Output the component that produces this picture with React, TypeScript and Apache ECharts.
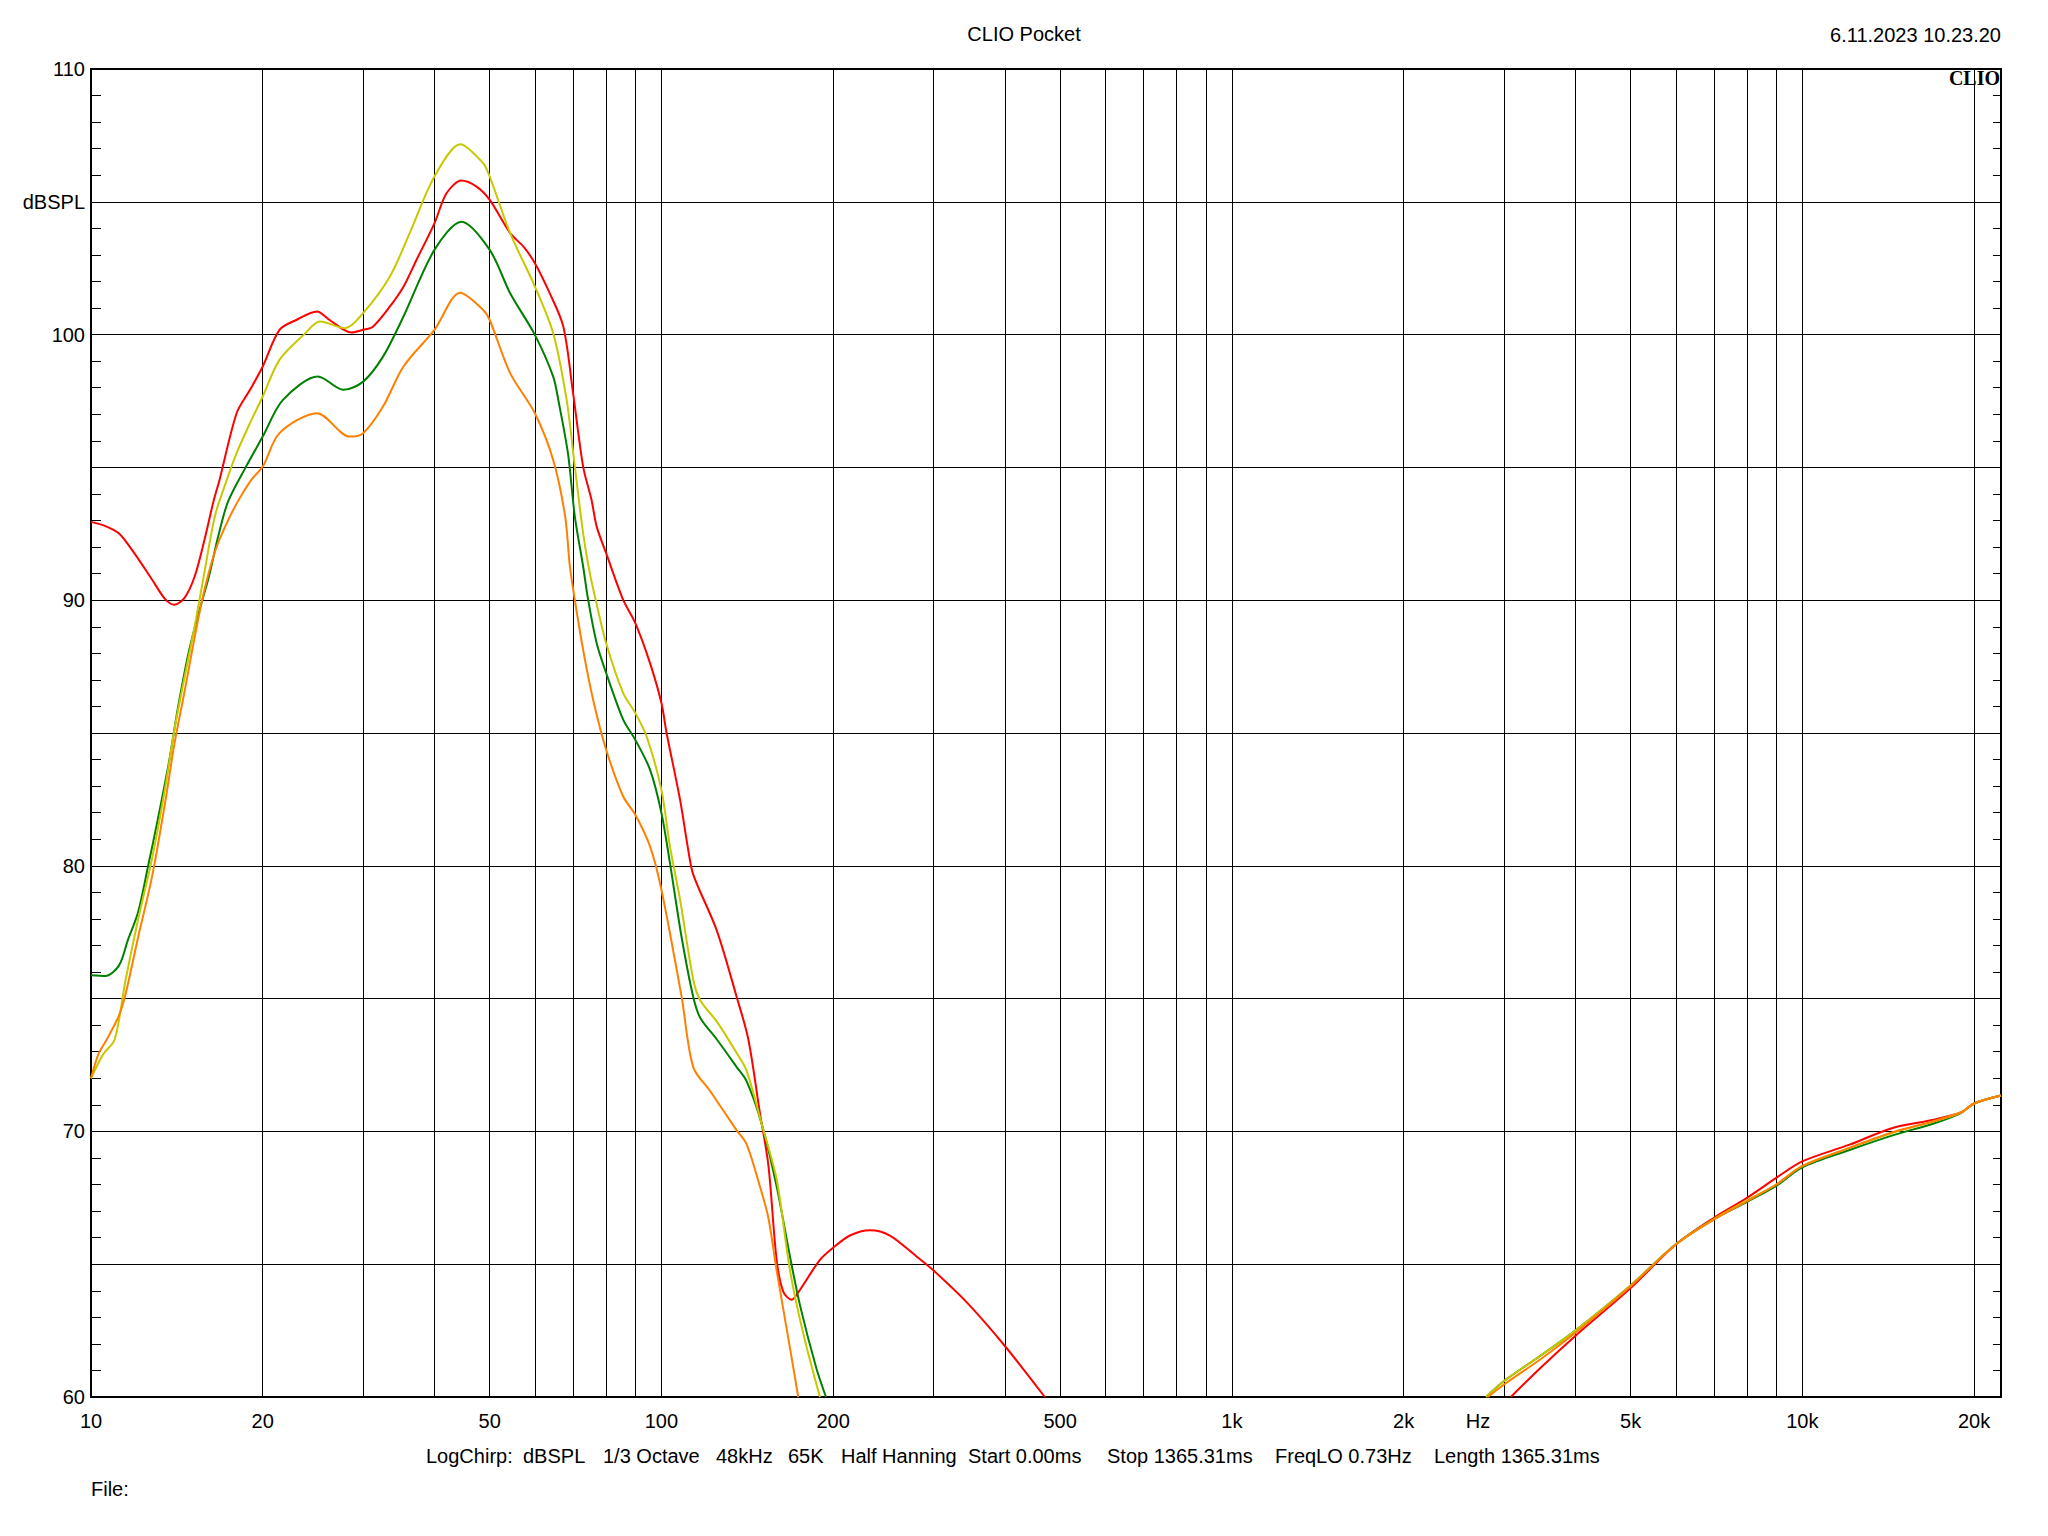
import React, { useEffect, useRef } from "react";
import * as echarts from "echarts";

// ---- axis definitions ----
const gridFreqs = [
  10, 20, 30, 40, 50, 60, 70, 80, 90,
  100, 200, 300, 400, 500, 600, 700, 800, 900,
  1000, 2000, 3000, 4000, 5000, 6000, 7000, 8000, 9000,
  10000, 20000,
];
const labelFreqs = [10, 20, 50, 100, 200, 500, 1000, 2000, 2700, 5000, 10000, 20000];
const labelTexts = ["10", "20", "50", "100", "200", "500", "1k", "2k", "Hz", "5k", "10k", "20k"];

// ---- red ----
const redLowFreq = [10, 10.6, 11.2, 11.9, 12.8, 13.5, 14.0, 14.6, 15.2, 15.8, 16.4, 16.8, 18.0, 19.0, 20, 21.4, 22.9, 24.9, 26.2, 28.6, 30, 31.2, 33.4, 35.3, 37.2, 40, 42, 44.6, 47.4, 50, 54.3, 57.3, 60, 63.7, 67.3, 70, 72.9, 75.4, 77, 80, 85.7, 90, 95.5, 100, 102.1, 107.8, 111.4, 113.7, 125, 135.5, 142, 148.8, 154, 159.2, 163.5, 169.1, 173.7, 189.6, 200, 214, 232, 251.5, 280, 300, 342.7, 400, 470];
const redLowDb = [92.95, 92.79, 92.51, 91.78, 90.77, 90.03, 89.83, 90.1, 90.9, 92.25, 93.73, 94.53, 97.04, 97.92, 98.8, 100.18, 100.55, 100.87, 100.55, 100.08, 100.18, 100.3, 101.05, 101.8, 102.81, 104.19, 105.32, 105.8, 105.57, 105.07, 103.82, 103.31, 102.69, 101.56, 100.3, 97.8, 95.03, 93.78, 92.77, 91.77, 90.01, 89.14, 87.63, 86.13, 85.0, 82.49, 80.61, 79.67, 77.57, 75.06, 73.47, 70.7, 68.72, 65.16, 63.97, 63.66, 63.94, 65.16, 65.62, 66.08, 66.28, 66.08, 65.29, 64.76, 63.57, 61.92, 60.0];
const redHighFreq = [3083, 3500, 4000, 5000, 6000, 7000, 8000, 9000, 10000, 12100, 14400, 17000, 19000, 20000, 22300];
const redHighDb = [60.0, 61.16, 62.3, 64.1, 65.74, 66.75, 67.5, 68.25, 68.87, 69.5, 70.13, 70.44, 70.72, 71.05, 71.35];

// ---- yellow ----
const yellowLowFreq = [10, 10.5, 11.0, 11.5, 12.1, 12.8, 13.5, 14.0, 14.6, 15.2, 15.8, 16.5, 17.3, 18.0, 19.0, 20, 21.4, 23.6, 25.2, 27.9, 30, 33.4, 36.2, 40, 44.4, 48.7, 50, 54.3, 60, 64.6, 68.2, 70.5, 72.9, 74.9, 76.7, 80, 85.7, 90, 94.2, 100, 103.5, 107.8, 113.7, 117, 125, 135.5, 141, 149.8, 159.2, 168, 177.3, 189.6];
const yellowLowDb = [72.0, 72.9, 73.45, 75.71, 78.0, 80.29, 82.97, 85.12, 87.14, 89.02, 91.03, 93.19, 94.53, 95.54, 96.67, 97.67, 99.05, 99.99, 100.49, 100.24, 100.81, 102.18, 103.82, 105.95, 107.17, 106.45, 105.95, 103.82, 101.81, 100.05, 97.54, 95.03, 92.52, 91.02, 90.01, 88.38, 86.5, 85.75, 84.87, 82.86, 80.73, 78.73, 75.72, 74.93, 74.14, 72.95, 72.29, 70.3, 68.2, 64.77, 62.38, 60.0];
const yellowHighFreq = [2790, 3000, 3500, 4000, 5000, 6000, 7000, 8000, 9000, 10000, 12100, 14400, 17000, 19000, 20000, 22300];
const yellowHighDb = [60.0, 60.6, 61.6, 62.5, 64.2, 65.75, 66.7, 67.4, 68.0, 68.7, 69.38, 69.95, 70.38, 70.72, 71.05, 71.35];

// ---- green ----
const greenLowFreq = [10, 10.6, 11.2, 11.6, 12.1, 12.6, 13.1, 13.7, 14.2, 14.8, 15.4, 16.1, 16.7, 17.4, 18.7, 20, 21.7, 25.0, 27.7, 30, 32.5, 35.3, 40, 44.6, 50, 54.3, 60, 64.6, 66, 68.6, 70.5, 72.9, 74.4, 77, 80, 85.7, 90, 95.5, 100, 103.5, 108.5, 113.7, 117, 125, 135.5, 141, 149.8, 159.2, 168, 175, 187, 194.3];
const greenLowDb = [75.88, 75.85, 76.25, 77.19, 78.27, 80.02, 81.76, 83.91, 85.93, 87.94, 89.42, 90.9, 92.38, 93.73, 95.03, 96.16, 97.54, 98.42, 97.92, 98.23, 99.17, 100.68, 103.19, 104.25, 103.19, 101.56, 99.99, 98.42, 97.5, 95.5, 93.15, 91.27, 90.01, 88.38, 87.26, 85.5, 84.74, 83.62, 81.99, 80.1, 77.3, 75.06, 74.27, 73.47, 72.42, 71.89, 70.3, 67.93, 65.29, 63.44, 61.06, 60.0];
const greenHighFreq = [2790, 3000, 3500, 4000, 5000, 6000, 7000, 8000, 9000, 10000, 12100, 14400, 17000, 19000, 20000, 22300];
const greenHighDb = [60.0, 60.6, 61.6, 62.5, 64.2, 65.75, 66.7, 67.35, 67.95, 68.65, 69.3, 69.85, 70.3, 70.7, 71.05, 71.35];

// ---- orange ----
const orangeLowFreq = [10, 10.3, 10.65, 11.2, 11.5, 12.1, 12.8, 13.5, 14.0, 14.6, 15.2, 15.8, 16.5, 17.2, 18.1, 19.1, 20, 21.4, 24.9, 28.4, 30, 32.5, 35.3, 40, 44.4, 48.7, 50, 54.3, 60, 64.6, 67.8, 69.1, 70.5, 72.9, 75.9, 80, 85.7, 90, 95.5, 100, 108.5, 113.7, 121.9, 135.5, 141, 148.8, 154, 159.2, 168, 173.7];
const orangeLowDb = [72.0, 72.9, 73.45, 74.37, 75.18, 77.33, 79.61, 82.43, 84.58, 86.6, 88.62, 90.37, 91.84, 92.79, 93.73, 94.53, 95.03, 96.29, 97.04, 96.16, 96.29, 97.29, 98.8, 100.18, 101.58, 100.93, 100.55, 98.55, 97.04, 95.28, 93.15, 91.27, 90.01, 88.13, 86.25, 84.37, 82.61, 81.92, 80.73, 79.1, 75.06, 72.42, 71.5, 70.04, 69.52, 67.93, 66.74, 64.77, 61.85, 60.0];
const orangeHighFreq = [2811, 3000, 3500, 4000, 5000, 6000, 7000, 8000, 9000, 10000, 12100, 14400, 17000, 19000, 20000, 22300];
const orangeHighDb = [60.0, 60.47, 61.47, 62.42, 64.17, 65.74, 66.68, 67.37, 68.0, 68.69, 69.38, 69.97, 70.38, 70.72, 71.05, 71.35];

const infoItems = [
  { text: "LogChirp:", x: 426 },
  { text: "dBSPL", x: 523 },
  { text: "1/3 Octave", x: 603 },
  { text: "48kHz", x: 716 },
  { text: "65K", x: 788 },
  { text: "Half Hanning", x: 841 },
  { text: "Start 0.00ms", x: 968 },
  { text: "Stop 1365.31ms", x: 1107 },
  { text: "FreqLO 0.73Hz", x: 1275 },
  { text: "Length 1365.31ms", x: 1434 },
];

const FONT = "'Liberation Sans', Arial, sans-serif";

function buildData(lf: number[], ld: number[], hf: number[], hd: number[]) {
  const out: any[] = [];
  lf.forEach((f, i) => out.push([f, ld[i]]));
  out.push([1000, null]);
  hf.forEach((f, i) => out.push([f, hd[i]]));
  return out;
}

function mkSeries(name: string, color: string, data: any[]) {
  return {
    name,
    type: "line",
    data,
    showSymbol: false,
    symbol: "none",
    smooth: 0.3,
    connectNulls: false,
    clip: true,
    lineStyle: { color, width: 2 },
    itemStyle: { color },
    silent: true,
    xAxisIndex: 0,
    yAxisIndex: 0,
  };
}

function txt(text: string, x: number, y: number, align: string, vAlign: string, extra: any = {}) {
  return {
    type: "text",
    x,
    y,
    silent: true,
    style: {
      text,
      fill: "#000",
      fontSize: 20,
      fontFamily: FONT,
      align,
      textAlign: align,
      verticalAlign: vAlign,
      textVerticalAlign: vAlign,
      ...extra,
    },
  };
}

export default function App() {
  const ref = useRef<HTMLDivElement>(null);
  useEffect(() => {
    if (!ref.current) return;
    const chart = echarts.init(ref.current, undefined, { renderer: "svg" });
    const yCommon = {
      type: "value",
      min: 60,
      max: 110,
      interval: 5,
      axisLine: { show: true, onZero: false, lineStyle: { color: "#000", width: 2 } },
      axisTick: { show: true, inside: true, length: 10, lineStyle: { color: "#000", width: 1 } },
      minorTick: { show: true, splitNumber: 5, length: 10, lineStyle: { color: "#000", width: 1 } },
    };
    const option: any = {
      animation: false,
      backgroundColor: "#ffffff",
      textStyle: { fontFamily: FONT },
      grid: {
        left: 91,
        right: 47,
        top: 69,
        bottom: 139,
        show: true,
        borderColor: "#000",
        borderWidth: 2,
        backgroundColor: "transparent",
      },
      xAxis: {
        type: "log",
        logBase: 10,
        min: 10,
        max: 22300,
        axisLine: { show: true, onZero: false, lineStyle: { color: "#000", width: 2 } },
        axisTick: { show: false, customValues: gridFreqs },
        minorTick: { show: false },
        axisLabel: {
          customValues: labelFreqs,
          fontSize: 20,
          color: "#000",
          fontFamily: FONT,
          margin: 14,
          formatter: (v: number) => {
            const i = labelFreqs.findIndex((f) => Math.abs(f - v) / f < 0.01);
            return i >= 0 ? labelTexts[i] : "";
          },
        },
        splitLine: { show: true, lineStyle: { color: "#000", width: 1 } },
        minorSplitLine: { show: false },
      },
      yAxis: [
        {
          ...yCommon,
          position: "left",
          axisLabel: {
            fontSize: 20,
            color: "#000",
            fontFamily: FONT,
            margin: 6,
            formatter: (v: number) => (v === 105 ? "dBSPL" : v % 10 === 0 ? String(v) : ""),
          },
          splitLine: { show: true, lineStyle: { color: "#000", width: 1 } },
        },
        {
          ...yCommon,
          position: "right",
          axisTick: { show: true, inside: true, length: 8, lineStyle: { color: "#000", width: 1 } },
          minorTick: { show: true, splitNumber: 5, length: 8, lineStyle: { color: "#000", width: 1 } },
          axisLabel: { show: false },
          splitLine: { show: false },
        },
      ],
      series: [
        mkSeries("red", "#ff0000", buildData(redLowFreq, redLowDb, redHighFreq, redHighDb)),
        mkSeries("green", "#008000", buildData(greenLowFreq, greenLowDb, greenHighFreq, greenHighDb)),
        mkSeries("yellow", "#c8c800", buildData(yellowLowFreq, yellowLowDb, yellowHighFreq, yellowHighDb)),
        mkSeries("orange", "#ff8000", buildData(orangeLowFreq, orangeLowDb, orangeHighFreq, orangeHighDb)),
      ],
      graphic: [
        txt("CLIO Pocket", 1024, 34, "center", "middle"),
        txt("6.11.2023 10.23.20", 2001, 35, "right", "middle"),
        txt("CLIO", 2000, 68, "right", "top", {
          fontFamily: "'Liberation Serif', 'Times New Roman', serif",
          fontWeight: "bold",
          fontSize: 20,
        }),
        ...infoItems.map((it) => txt(it.text, it.x, 1456, "left", "middle")),
        txt("File:", 91, 1489, "left", "middle"),
      ],
    };
    chart.setOption(option);
    return () => chart.dispose();
  }, []);
  return (
    <div
      ref={ref}
      style={{ position: "fixed", left: 0, top: 0, width: 2048, height: 1536, background: "#fff" }}
    />
  );
}
